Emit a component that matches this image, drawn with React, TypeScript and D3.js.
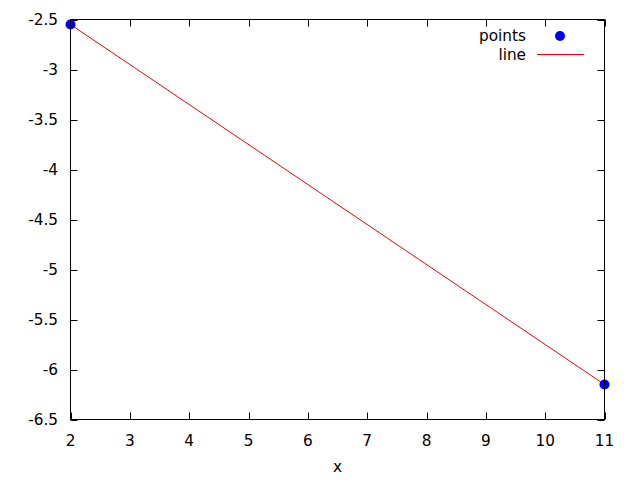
import React from "react";
import * as d3 from "d3";

const xTicks = [2, 3, 4, 5, 6, 7, 8, 9, 10, 11];
const yTicks = [-2.5, -3, -3.5, -4, -4.5, -5, -5.5, -6, -6.5];
const pointsX = [2, 11];
const pointsY = [-2.55, -6.15];
const lineX = [2, 11];
const lineY = [-2.55, -6.15];
const legendLabels = ["points", "line"];
const xLabel = "x";

const W = 640, H = 480;
const L = 70.5, R = 604.5, T = 19.5, B = 419.5;
const FONT = "DejaVu Sans";
const FS = 15.3;
const TICK = 7;

export default function App() {
  const x = d3.scaleLinear().domain([2, 11]).range([L, R]);
  const y = d3.scaleLinear().domain([-2.5, -6.5]).range([T, B]);
  const lineGen = d3.line<number>().x((_, i) => x(lineX[i])).y((d) => y(d));
  const fmt = (v: number) => String(v);
  return (
    <svg width={W} height={H} style={{ position: "absolute", left: 0, top: 0, background: "#fff" }}>
      <rect x={0} y={0} width={W} height={H} fill="#fff" />
      <g stroke="#000" strokeWidth={1}>
        {xTicks.map((t) => (
          <g key={"xt" + t}>
            <line x1={Math.round(x(t)) + 0.5} x2={Math.round(x(t)) + 0.5} y1={B} y2={B - TICK} />
            <line x1={Math.round(x(t)) + 0.5} x2={Math.round(x(t)) + 0.5} y1={T} y2={T + TICK} />
          </g>
        ))}
        {yTicks.map((t) => (
          <g key={"yt" + t}>
            <line x1={L} x2={L + TICK} y1={Math.round(y(t)) + 0.5} y2={Math.round(y(t)) + 0.5} />
            <line x1={R} x2={R - TICK} y1={Math.round(y(t)) + 0.5} y2={Math.round(y(t)) + 0.5} />
          </g>
        ))}
      </g>
      <g fontFamily={FONT} fontSize={FS} fill="#000">
        {xTicks.map((t) => (
          <text key={"xl" + t} x={x(t)} y={446} textAnchor="middle">{fmt(t)}</text>
        ))}
        {yTicks.map((t) => (
          <text key={"yl" + t} x={58} y={y(t) + 5.5} textAnchor="end">{fmt(t)}</text>
        ))}
        <text x={(L + R) / 2} y={472} textAnchor="middle">{xLabel}</text>
      </g>
      <path d={lineGen(lineY) || ""} fill="none" stroke="#ff0000" strokeWidth={1} />
      {pointsX.map((px, i) => (
        <circle key={"p" + i} cx={x(px)} cy={y(pointsY[i])} r={5} fill="#0000ff" />
      ))}
      <rect x={L} y={T} width={R - L} height={B - T} fill="none" stroke="#000" strokeWidth={1} />
      <g fontFamily={FONT} fontSize={FS} fill="#000">
        <text x={526} y={41} textAnchor="end">{legendLabels[0]}</text>
        <circle cx={560} cy={36} r={5} fill="#0000ff" />
        <text x={526} y={60} textAnchor="end">{legendLabels[1]}</text>
        <line x1={537} x2={584} y1={54.5} y2={54.5} stroke="#ff0000" strokeWidth={1} />
      </g>
    </svg>
  );
}
